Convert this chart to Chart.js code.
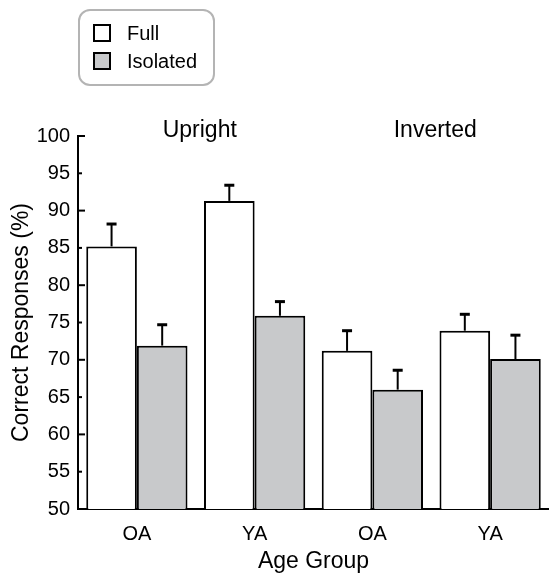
<!DOCTYPE html>
<html>
<head>
<meta charset="utf-8">
<script src="https://cdn.jsdelivr.net/npm/chart.js@4/dist/chart.umd.min.js"></script>
<style>
  html, body { margin: 0; padding: 0; background: #fff; }
  #wrap { width: 549px; height: 573px; position: relative; }
</style>
</head>
<body>
<div id="wrap"><canvas id="chart"></canvas></div>
<script>
//------------------------------------------------------
// DATA
//------------------------------------------------------
const categories = ['OA', 'YA', 'OA', 'YA'];
const panels = ['Upright', 'Inverted'];

const fullMeans = [85.2, 91.3, 71.2, 73.9];
const fullErr = [3.0, 2.1, 2.7, 2.2];
const isolatedMeans = [71.9, 75.9, 66.0, 70.1];
const isolatedErr = [2.8, 1.9, 2.6, 3.2];

const yMin = 50;
const yMax = 100;
const yStep = 5;

const FONT = "'Liberation Sans', Arial, Helvetica, sans-serif";

//------------------------------------------------------
// PLUGINS
//------------------------------------------------------

// upward error bars with a cap
const errorBars = {
  id: 'errorBars',
  afterDatasetsDraw(chart) {
    const ctx = chart.ctx;
    const y = chart.scales.y;
    chart.data.datasets.forEach((ds, i) => {
      const meta = chart.getDatasetMeta(i);
      meta.data.forEach((bar, j) => {
        const top = y.getPixelForValue(ds.data[j] + ds.errors[j]);
        ctx.save();
        ctx.strokeStyle = '#000';
        ctx.lineWidth = 2;
        ctx.beginPath();
        ctx.moveTo(bar.x, bar.y);
        ctx.lineTo(bar.x, top);
        ctx.stroke();
        ctx.lineWidth = 3;
        ctx.beginPath();
        ctx.moveTo(bar.x - 5, top);
        ctx.lineTo(bar.x + 5, top);
        ctx.stroke();
        ctx.restore();
      });
    });
  }
};

// inward ticks on y axis, panel labels, legend box
const decorations = {
  id: 'decorations',
  afterDraw(chart) {
    const ctx = chart.ctx;
    const area = chart.chartArea;
    const x = chart.scales.x;
    const y = chart.scales.y;

    ctx.save();
    ctx.strokeStyle = '#000';
    ctx.lineWidth = 2;
    y.ticks.forEach(t => {
      const py = y.getPixelForValue(t.value);
      const len = t.value % 10 === 0 ? 7 : 4;
      ctx.beginPath();
      ctx.moveTo(area.left, py);
      ctx.lineTo(area.left + len, py);
      ctx.stroke();
    });

    // panel labels
    ctx.fillStyle = '#000';
    ctx.font = '23px ' + FONT;
    ctx.textAlign = 'center';
    ctx.textBaseline = 'alphabetic';
    panels.forEach((p, k) => {
      const px = (x.getPixelForValue(2 * k) + x.getPixelForValue(2 * k + 1)) / 2 + 4;
      ctx.fillText(p, px, y.getPixelForValue(yMax) + 1);
    });

    // legend
    const bx = 79, by = 10, bw = 135, bh = 75, r = 11;
    ctx.strokeStyle = '#b4b4b4';
    ctx.lineWidth = 2;
    ctx.beginPath();
    ctx.roundRect(bx, by, bw, bh, r);
    ctx.stroke();

    ctx.font = '20px ' + FONT;
    ctx.textAlign = 'left';
    ctx.textBaseline = 'middle';
    chart.data.datasets.forEach((ds, i) => {
      const cy = 33 + i * 28;
      ctx.fillStyle = ds.backgroundColor;
      ctx.fillRect(94, cy - 8, 16, 16);
      ctx.strokeStyle = '#000';
      ctx.lineWidth = 2;
      ctx.strokeRect(94, cy - 8, 16, 16);
      ctx.fillStyle = '#000';
      ctx.fillText(ds.label, 127, cy + 1);
    });
    ctx.restore();
  }
};

//------------------------------------------------------
// CHART
//------------------------------------------------------
const config = {
  type: 'bar',
  data: {
    labels: categories,
    datasets: [{
      label: 'Full',
      data: fullMeans,
      errors: fullErr,
      backgroundColor: '#ffffff',
      borderColor: '#000000',
      borderWidth: 2,
    }, {
      label: 'Isolated',
      data: isolatedMeans,
      errors: isolatedErr,
      backgroundColor: '#c8c9cb',
      borderColor: '#000000',
      borderWidth: 2,
    }]
  },
  options: {
    responsive: true,
    maintainAspectRatio: false,
    animation: false,
    categoryPercentage: 0.86,
    barPercentage: 1.0,
    layout: {
      padding: { top: 136, right: 0, bottom: 0, left: 0 }
    },
    plugins: {
      legend: { display: false },
      tooltip: { enabled: false }
    },
    scales: {
      x: {
        grid: { display: false, drawTicks: false },
        border: { display: true, color: '#000', width: 2 },
        ticks: {
          color: '#000',
          padding: 13,
          font: { family: FONT, size: 20 }
        },
        title: {
          display: true,
          text: 'Age Group',
          color: '#000',
          padding: { top: 0, bottom: 0 },
          font: { family: FONT, size: 23, lineHeight: 1 }
        },
        afterFit(scale) { scale.height = 64; }
      },
      y: {
        min: yMin,
        max: yMax,
        grid: { display: false, drawTicks: false },
        border: { display: true, color: '#000', width: 2 },
        ticks: {
          stepSize: yStep,
          color: '#000',
          padding: 8,
          font: { family: FONT, size: 20 }
        },
        title: {
          display: true,
          text: 'Correct Responses (%)',
          color: '#000',
          padding: { top: 10, bottom: 0 },
          font: { family: FONT, size: 23, lineHeight: 1 }
        },
        afterFit(scale) { scale.width = 78; }
      }
    }
  },
  plugins: [errorBars, decorations]
};

const ctx = document.getElementById('chart').getContext('2d');
const chart = new Chart(ctx, config);
</script>
</body>
</html>
